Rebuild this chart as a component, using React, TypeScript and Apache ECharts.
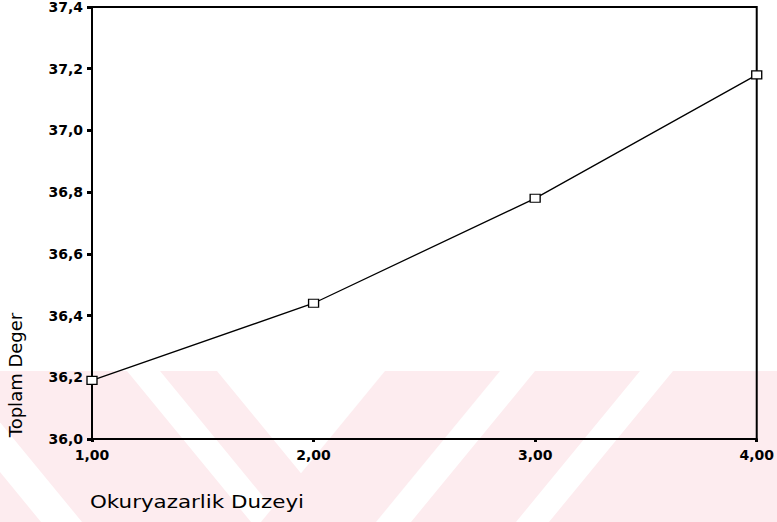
import React, { useEffect, useRef } from "react";
import * as echarts from "echarts";

// ---- data ----
const levels = [1, 2, 3, 4];
const totals = [36.19, 36.44, 36.78, 37.18];
const xTickLabels = ["1,00", "2,00", "3,00", "4,00"];
const yTickLabels = ["36,0", "36,2", "36,4", "36,6", "36,8", "37,0", "37,2", "37,4"];
const xName = "Okuryazarlik Duzeyi";
const yName = "Toplam Deger";

// ---- decorative watermark stripes (scan background) ----
const WM_TOP = 371;
const WM_BOTTOM = 522;
const WM_SHIFT = 124;
const backBands = [
  [-300, -83],
  [-42, 127],
  [160, 217],
];
const fwdBands = [
  [385, 500],
  [535, 640],
  [673, 1000],
];
const WM_COLOR = "#fdecef";

export default function App() {
  const ref = useRef<HTMLDivElement>(null);

  useEffect(() => {
    if (!ref.current) return;
    const chart = echarts.init(ref.current, undefined, { renderer: "svg" });

    const wm: any[] = [];
    backBands.forEach(([a, b]) => {
      wm.push({
        type: "polygon",
        z: -10,
        silent: true,
        shape: {
          points: [
            [a, WM_TOP],
            [b, WM_TOP],
            [b + WM_SHIFT, WM_BOTTOM],
            [a + WM_SHIFT, WM_BOTTOM],
          ],
        },
        style: { fill: WM_COLOR },
      });
    });
    fwdBands.forEach(([a, b]) => {
      wm.push({
        type: "polygon",
        z: -10,
        silent: true,
        shape: {
          points: [
            [a, WM_TOP],
            [b, WM_TOP],
            [b - WM_SHIFT, WM_BOTTOM],
            [a - WM_SHIFT, WM_BOTTOM],
          ],
        },
        style: { fill: WM_COLOR },
      });
    });

    const fmtX = (v: number) => {
      const i = levels.indexOf(v);
      return i >= 0 ? xTickLabels[i] : "";
    };
    const fmtY = (v: number) => {
      const i = Math.round((v - 36) / 0.2);
      return yTickLabels[i] ?? "";
    };

    chart.setOption({
      animation: false,
      backgroundColor: "#ffffff",
      grid: {
        left: 92,
        right: 15,
        top: 7,
        bottom: 83,
        show: true,
        borderColor: "#000",
        borderWidth: 2,
        backgroundColor: "transparent",
      },
      xAxis: {
        type: "value",
        min: 1,
        max: 4,
        interval: 1,
        splitLine: { show: false },
        axisLine: { show: true, lineStyle: { color: "#000", width: 2 } },
        axisTick: { show: true, length: 3, lineStyle: { color: "#000", width: 3 } },
        axisLabel: {
          formatter: fmtX,
          margin: 9,
          color: "#000",
          fontFamily: "DejaVu Sans",
          fontWeight: "bold",
          fontSize: 14,
        },
      },
      yAxis: {
        type: "value",
        min: 36,
        max: 37.4,
        interval: 0.2,
        splitLine: { show: false },
        axisLine: { show: true, lineStyle: { color: "#000", width: 2 } },
        axisTick: { show: true, length: 5, lineStyle: { color: "#000", width: 3 } },
        axisLabel: {
          formatter: fmtY,
          margin: 9,
          color: "#000",
          fontFamily: "DejaVu Sans",
          fontWeight: "bold",
          fontSize: 14,
        },
      },
      graphic: [
        ...wm,
        {
          type: "text",
          x: 15,
          y: 375,
          rotation: Math.PI / 2,
          style: {
            text: yName,
            fill: "#000",
            font: "18px 'DejaVu Sans'",
            textAlign: "center",
            textVerticalAlign: "middle",
          },
        },
        {
          type: "text",
          x: 90,
          y: 502,
          scaleX: 1.19,
          style: {
            text: xName,
            fill: "#000",
            font: "18px 'DejaVu Sans'",
            textAlign: "left",
            textVerticalAlign: "middle",
          },
        },
      ],
      series: [
        {
          type: "line",
          data: levels.map((x, i) => [x, totals[i]]),
          clip: false,
          z: 5,
          lineStyle: { color: "#000", width: 1.3 },
          symbol: "rect",
          symbolSize: [10, 8],
          itemStyle: { color: "#fff", borderColor: "#000", borderWidth: 1.2 },
        },
      ],
    });

    return () => chart.dispose();
  }, []);

  return (
    <div
      ref={ref}
      style={{ position: "fixed", left: 0, top: 0, width: 777, height: 522 }}
    />
  );
}
